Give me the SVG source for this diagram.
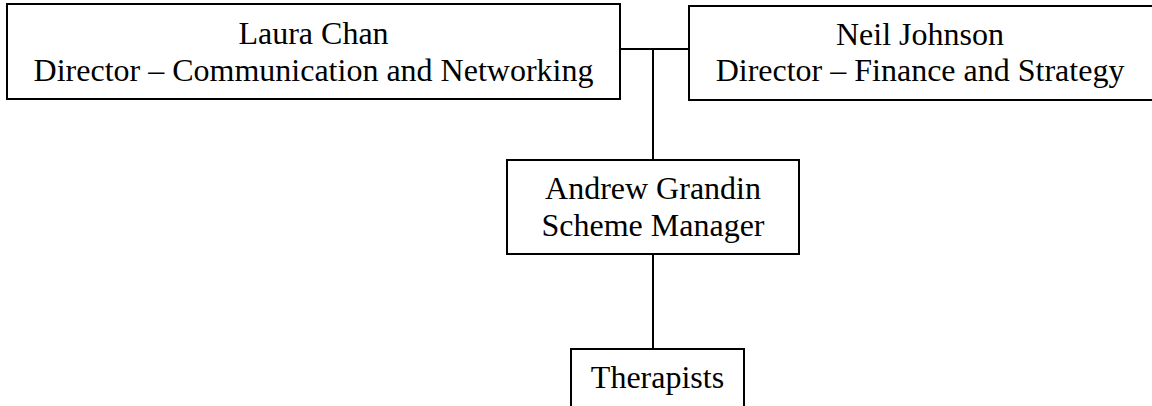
<svg xmlns="http://www.w3.org/2000/svg" width="1152" height="406" viewBox="0 0 1152 406">
<style>
.box{fill:#fff;stroke:#000;stroke-width:2}
.t{font-family:"Liberation Serif","Times New Roman",serif;font-size:32px;fill:#000;text-anchor:middle}
.c{stroke:#000;stroke-width:2;fill:none}
</style>
<rect width="1152" height="406" fill="#fff"/>
<g id="connectors">
<line class="c" x1="620" y1="49" x2="689" y2="49"/>
<line class="c" x1="653" y1="49" x2="653" y2="160"/>
<line class="c" x1="653" y1="254" x2="653" y2="349"/>
</g>
<g id="laura">
<rect class="box" x="7" y="4" width="613" height="95"/>
<text class="t" x="313.5" y="44">Laura Chan</text>
<text class="t" x="313.5" y="81">Director – Communication and Networking</text>
</g>
<g id="neil">
<rect class="box" x="689" y="6" width="466" height="94"/>
<text class="t" x="920" y="45">Neil Johnson</text>
<text class="t" x="920" y="81">Director – Finance and Strategy</text>
</g>
<g id="andrew">
<rect class="box" x="507" y="160" width="292" height="94"/>
<text class="t" x="653" y="199">Andrew Grandin</text>
<text class="t" x="653" y="236">Scheme Manager</text>
</g>
<g id="therapists">
<rect class="box" x="571" y="349" width="173" height="70"/>
<text class="t" x="657.5" y="388">Therapists</text>
</g>
</svg>
